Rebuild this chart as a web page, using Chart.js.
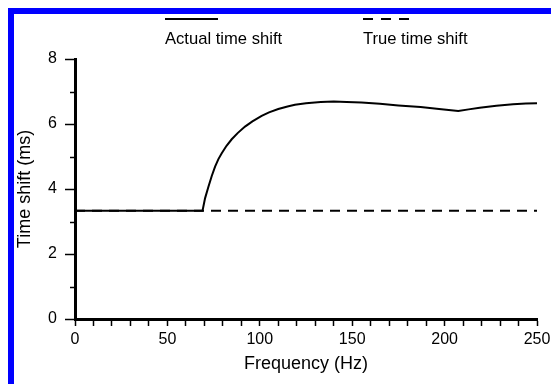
<!DOCTYPE html>
<html>
<head>
<meta charset="utf-8">
<script src="https://cdn.jsdelivr.net/npm/chart.js@4/dist/chart.umd.min.js"></script>
<style>
  html, body { margin: 0; padding: 0; background: #fff; }
  #wrap { position: relative; width: 551px; height: 384px; overflow: hidden; }
  #frame {
    position: absolute; left: 8px; top: 8px; right: -10px; bottom: -10px;
    border-left: 6px solid #0000ff; border-top: 6px solid #0000ff;
    pointer-events: none;
  }
</style>
</head>
<body>
<div id="wrap">
  <canvas id="shiftChart" width="551" height="384"></canvas>
  <div id="frame"></div>
</div>
<script>
// Actual time shift vs frequency
const freqActual = [0, 69, 70.4, 72.2, 74, 75.8, 77.6, 79.4, 82, 84.8, 88, 92, 96, 101, 105, 110, 115, 119,
  125, 133, 140, 147, 155, 165, 175, 187, 197, 207.4, 213, 219, 228, 237, 244, 250];
const shiftActual = [3.33, 3.33, 3.72, 4.07, 4.40, 4.69, 4.92, 5.10, 5.33, 5.53, 5.72, 5.92, 6.08, 6.25, 6.36, 6.46, 6.54, 6.59,
  6.64, 6.68, 6.69, 6.68, 6.66, 6.62, 6.57, 6.52, 6.46, 6.40, 6.45, 6.50, 6.56, 6.61, 6.63, 6.64];

// True time shift (constant)
const freqTrue = [0, 250];
const shiftTrue = [3.33, 3.33];

const yMajor = 2;
const xMajor = 50;

const actualPts = freqActual.map((f, i) => ({ x: f, y: shiftActual[i] }));
const truePts = freqTrue.map((f, i) => ({ x: f, y: shiftTrue[i] }));

const FONT = "'Liberation Sans', Arial, Helvetica, sans-serif";

// legend above the plot: line sample on top, label below
const topLegend = {
  id: "topLegend",
  afterDraw(chart) {
    const c = chart.ctx;
    c.save();
    c.strokeStyle = "#000";
    c.lineWidth = 2;
    c.beginPath();
    c.moveTo(165, 19);
    c.lineTo(218, 19);
    c.stroke();
    c.setLineDash([10, 8]);
    c.beginPath();
    c.moveTo(363, 19);
    c.lineTo(410, 19);
    c.stroke();
    c.setLineDash([]);
    c.fillStyle = "#000";
    c.font = "16.6px " + FONT;
    c.textBaseline = "alphabetic";
    c.fillText("Actual time shift", 165, 44);
    c.fillText("True time shift", 363, 44);
    c.restore();
  },
};

// short minor ticks on the y axis
const minorTicks = {
  id: "minorTicks",
  afterDraw(chart) {
    const ys = chart.scales.y;
    const c = chart.ctx;
    c.save();
    c.strokeStyle = "#000";
    c.lineWidth = 1.5;
    ys.ticks.forEach((t) => {
      if (t.value % yMajor === 0) return;
      const py = Math.round(ys.getPixelForValue(t.value)) + 0.5;
      c.beginPath();
      c.moveTo(ys.right - 5, py);
      c.lineTo(ys.right, py);
      c.stroke();
    });
    c.restore();
  },
};

const ctx = document.getElementById("shiftChart").getContext("2d");
const shiftChart = new Chart(ctx, {
  type: "line",
  data: {
    datasets: [
      {
        label: "Actual time shift",
        data: actualPts,
        borderColor: "#000",
        borderWidth: 2,
        pointRadius: 0,
        tension: 0,
        order: 0,
      },
      {
        label: "True time shift",
        data: truePts,
        borderColor: "#000",
        borderWidth: 2,
        borderDash: [10, 7],
        pointRadius: 0,
        tension: 0,
        order: 1,
      },
    ],
  },
  options: {
    responsive: false,
    animation: false,
    layout: { padding: { left: 0, right: 14, top: 59, bottom: 0 } },
    scales: {
      x: {
        type: "linear",
        min: 0,
        max: 250,
        afterFit(scale) {
          scale.height = 65;
          scale.paddingLeft = 0;
          scale.paddingRight = 0;
        },
        border: { display: true, color: "#000", width: 3 },
        grid: { drawOnChartArea: false, drawTicks: true, tickLength: 7, tickWidth: 1.5, tickColor: "#000" },
        ticks: {
          stepSize: 10,
          autoSkip: false,
          maxRotation: 0,
          padding: 4,
          color: "#000",
          font: { family: FONT, size: 16 },
          callback: (v) => (v % xMajor === 0 ? v : ""),
        },
        title: {
          display: true,
          text: "Frequency (Hz)",
          color: "#000",
          font: { family: FONT, size: 18 },
          padding: { top: 0, bottom: 9 },
        },
      },
      y: {
        min: 0,
        max: 8,
        afterFit(scale) {
          scale.width = 75;
          scale.paddingTop = 0;
          scale.paddingBottom = 0;
        },
        border: { display: true, color: "#000", width: 3 },
        grid: {
          drawOnChartArea: false,
          drawTicks: true,
          tickLength: 10,
          tickWidth: 1.5,
          tickColor: (c) => (c.tick && c.tick.value % yMajor === 0 ? "#000" : "rgba(0,0,0,0)"),
        },
        ticks: {
          stepSize: 1,
          autoSkip: false,
          padding: 8,
          color: "#000",
          font: { family: FONT, size: 16 },
          callback: (v) => (v % yMajor === 0 ? v : ""),
        },
        title: {
          display: true,
          text: "Time shift (ms)",
          color: "#000",
          font: { family: FONT, size: 18 },
          padding: { top: 14, bottom: 0 },
        },
      },
    },
    plugins: {
      legend: { display: false },
      tooltip: { enabled: false },
    },
  },
  plugins: [topLegend, minorTicks],
});
</script>
</body>
</html>
